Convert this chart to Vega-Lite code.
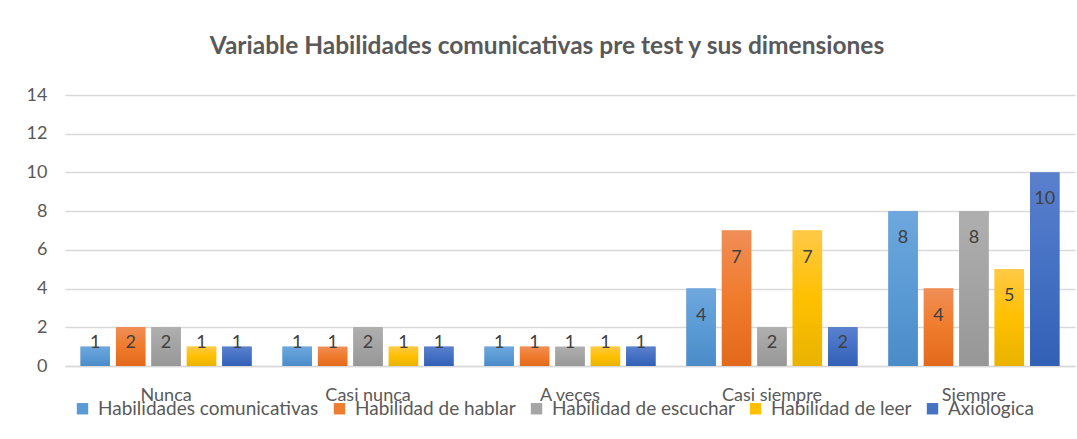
{
  "$schema": "https://vega.github.io/schema/vega-lite/v6.json",
  "autosize": {"type": "none"},
  "width": 1010,
  "height": 271,
  "padding": {"left": 65, "top": 95, "right": 2, "bottom": 73},
  "background": "white",
  "title": {
    "text": "Variable Habilidades comunicativas pre test y sus dimensiones",
    "font": "Lato",
    "fontSize": 24.5,
    "fontWeight": "bold",
    "color": "#595959",
    "anchor": "middle",
    "baseline": "alphabetic",
    "offset": 8,
    "dx": -23
  },
  "config": {
    "font": "Lato",
    "view": {"stroke": null},
    "axis": {"labelFont": "Lato", "labelFontSize": 18, "labelColor": "#595959", "ticks": false, "title": null}
  },
  "data": {
    "values": [
      {"cat": "Nunca", "serie": "Habilidades comunicativas", "value": 1},
      {"cat": "Nunca", "serie": "Habilidad de hablar", "value": 2},
      {"cat": "Nunca", "serie": "Habilidad de escuchar", "value": 2},
      {"cat": "Nunca", "serie": "Habilidad de leer", "value": 1},
      {"cat": "Nunca", "serie": "Axiologica", "value": 1},
      {"cat": "Casi nunca", "serie": "Habilidades comunicativas", "value": 1},
      {"cat": "Casi nunca", "serie": "Habilidad de hablar", "value": 1},
      {"cat": "Casi nunca", "serie": "Habilidad de escuchar", "value": 2},
      {"cat": "Casi nunca", "serie": "Habilidad de leer", "value": 1},
      {"cat": "Casi nunca", "serie": "Axiologica", "value": 1},
      {"cat": "A veces", "serie": "Habilidades comunicativas", "value": 1},
      {"cat": "A veces", "serie": "Habilidad de hablar", "value": 1},
      {"cat": "A veces", "serie": "Habilidad de escuchar", "value": 1},
      {"cat": "A veces", "serie": "Habilidad de leer", "value": 1},
      {"cat": "A veces", "serie": "Axiologica", "value": 1},
      {"cat": "Casi siempre", "serie": "Habilidades comunicativas", "value": 4},
      {"cat": "Casi siempre", "serie": "Habilidad de hablar", "value": 7},
      {"cat": "Casi siempre", "serie": "Habilidad de escuchar", "value": 2},
      {"cat": "Casi siempre", "serie": "Habilidad de leer", "value": 7},
      {"cat": "Casi siempre", "serie": "Axiologica", "value": 2},
      {"cat": "Siempre", "serie": "Habilidades comunicativas", "value": 8},
      {"cat": "Siempre", "serie": "Habilidad de hablar", "value": 4},
      {"cat": "Siempre", "serie": "Habilidad de escuchar", "value": 8},
      {"cat": "Siempre", "serie": "Habilidad de leer", "value": 5},
      {"cat": "Siempre", "serie": "Axiologica", "value": 10}
    ]
  },
  "encoding": {
    "x": {
      "field": "cat", "type": "nominal",
      "sort": ["Nunca", "Casi nunca", "A veces", "Casi siempre", "Siempre"],
      "scale": {"paddingInner": 0.153, "paddingOuter": 0.077},
      "axis": {"labelAngle": 0, "domainColor": "#D9D9D9", "domainWidth": 1.5, "labelPadding": 20, "grid": false}
    },
    "xOffset": {
      "field": "serie", "type": "nominal",
      "scale": {"domain": ["Habilidades comunicativas", "Habilidad de hablar", "Habilidad de escuchar", "Habilidad de leer", "Axiologica"], "paddingInner": 0.17, "paddingOuter": 0}
    },
    "y": {
      "field": "value", "type": "quantitative",
      "scale": {"domain": [0, 14], "nice": false},
      "axis": {"values": [0, 2, 4, 6, 8, 10, 12, 14], "domain": false, "grid": true, "gridColor": "#D9D9D9", "gridWidth": 1.5, "labelPadding": 18}
    }
  },
  "layer": [
    {
      "mark": {"type": "bar"},
      "encoding": {
        "color": {
          "field": "serie", "type": "nominal",
          "scale": {
            "domain": ["Habilidades comunicativas", "Habilidad de hablar", "Habilidad de escuchar", "Habilidad de leer", "Axiologica"],
            "range": ["#5B9BD5", "#ED7D31", "#A5A5A5", "#FFC000", "#4472C4"]
          },
          "legend": {
            "orient": "none", "legendX": 8, "legendY": 304, "direction": "horizontal",
            "title": null, "symbolType": "square", "symbolSize": 130, "symbolStrokeWidth": 0,
            "labelFont": "Lato", "labelFontSize": 19, "labelColor": "#595959",
            "labelOffset": 6, "columnPadding": 11, "padding": 0, "labelLimit": 400
          }
        }
      }
    },
    {
      "transform": [{"filter": "datum.serie == 'Habilidades comunicativas'"}],
      "mark": {"type": "bar", "fill": {"gradient": "linear", "x1": 0, "y1": 0, "x2": 0, "y2": 1, "stops": [{"offset": 0, "color": "#6EA7DD"}, {"offset": 0.5, "color": "#5B9BD5"}, {"offset": 1, "color": "#4A8BC8"}]}}
    },
    {
      "transform": [{"filter": "datum.serie == 'Habilidad de hablar'"}],
      "mark": {"type": "bar", "fill": {"gradient": "linear", "x1": 0, "y1": 0, "x2": 0, "y2": 1, "stops": [{"offset": 0, "color": "#F08E57"}, {"offset": 0.5, "color": "#F07B2C"}, {"offset": 1, "color": "#E2691C"}]}}
    },
    {
      "transform": [{"filter": "datum.serie == 'Habilidad de escuchar'"}],
      "mark": {"type": "bar", "fill": {"gradient": "linear", "x1": 0, "y1": 0, "x2": 0, "y2": 1, "stops": [{"offset": 0, "color": "#AFAFAF"}, {"offset": 0.5, "color": "#A3A3A3"}, {"offset": 1, "color": "#979797"}]}}
    },
    {
      "transform": [{"filter": "datum.serie == 'Habilidad de leer'"}],
      "mark": {"type": "bar", "fill": {"gradient": "linear", "x1": 0, "y1": 0, "x2": 0, "y2": 1, "stops": [{"offset": 0, "color": "#FFC947"}, {"offset": 0.5, "color": "#FFC000"}, {"offset": 1, "color": "#E9B300"}]}}
    },
    {
      "transform": [{"filter": "datum.serie == 'Axiologica'"}],
      "mark": {"type": "bar", "fill": {"gradient": "linear", "x1": 0, "y1": 0, "x2": 0, "y2": 1, "stops": [{"offset": 0, "color": "#5A80CD"}, {"offset": 0.5, "color": "#4571C4"}, {"offset": 1, "color": "#3260B5"}]}}
    },
    {
      "transform": [{"filter": "datum.value >= 4"}],
      "mark": {"type": "text", "baseline": "middle", "dy": 27, "fontSize": 18, "font": "Lato", "color": "#404040"},
      "encoding": {"text": {"field": "value", "type": "quantitative"}}
    },
    {
      "transform": [{"filter": "datum.value == 2"}],
      "mark": {"type": "text", "baseline": "middle", "dy": 16, "fontSize": 18, "font": "Lato", "color": "#404040"},
      "encoding": {"text": {"field": "value", "type": "quantitative"}}
    },
    {
      "transform": [{"filter": "datum.value == 1"}],
      "mark": {"type": "text", "baseline": "middle", "dy": -4, "fontSize": 18, "font": "Lato", "color": "#404040"},
      "encoding": {"text": {"field": "value", "type": "quantitative"}}
    }
  ]
}
